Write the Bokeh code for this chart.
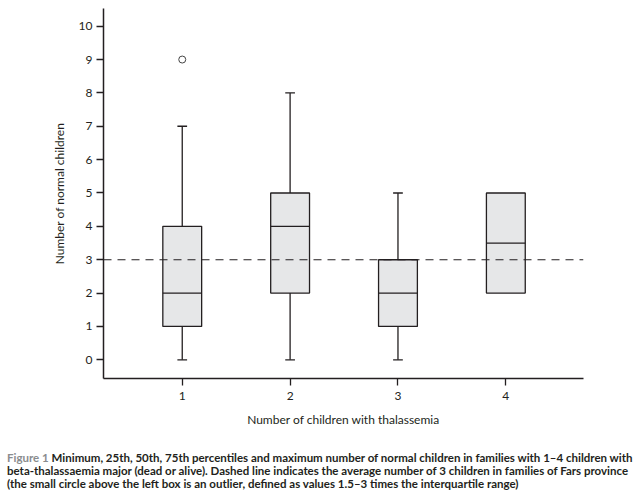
from bokeh.plotting import figure
from bokeh.models import Range1d, FixedTicker, Span, ColumnDataSource, Div
from bokeh.layouts import column
from bokeh.embed import file_html
from bokeh.resources import INLINE

# ---- data ----
groups = [1, 2, 3, 4]
mins = [0, 0, 0, 2]
q1s = [1, 2, 1, 2]
medians = [2, 4, 2, 3.5]
q3s = [4, 5, 3, 5]
maxs = [7, 8, 5, 5]
outlier_x = [1]
outlier_y = [9]
average_value = 3
x_ticks = [1, 2, 3, 4]
y_ticks = [0, 1, 2, 3, 4, 5, 6, 7, 8, 9, 10]

x_label = "Number of children with thalassemia"
y_label = "Number of normal children"
caption_prefix = "Figure 1"
caption_line1 = "Minimum, 25th, 50th, 75th percentiles and maximum number of normal children in families with 1\u20134 children with"
caption_line2 = "beta-thalassaemia major (dead or alive). Dashed line indicates the average number of 3 children in families of Fars province"
caption_line3 = "(the small circle above the left box is an outlier, defined as values 1.5\u20133 times the interquartile range)"

# ---- style ----
BOX_W = 0.36
CAP_W = 0.09
FONT = "Lato"
INK = "#231f20"

p = figure(width=643, height=440, output_backend="svg", toolbar_location=None,
           x_range=Range1d(0.27, 4.72), y_range=Range1d(-0.56, 10.53),
           min_border_left=103, min_border_right=60, min_border_top=8,
           min_border_bottom=62)
p.title.visible = False
p.outline_line_color = None
p.grid.visible = False
p.background_fill_color = "white"
p.border_fill_color = "white"

for ax in (p.xaxis[0], p.yaxis[0]):
    ax.axis_line_color = INK
    ax.axis_line_width = 1.5
    ax.major_tick_line_color = INK
    ax.major_tick_line_width = 1.3
    ax.major_tick_in = 0
    ax.major_tick_out = 7
    ax.minor_tick_line_color = None
    ax.major_label_text_font = FONT
    ax.major_label_text_font_size = "12px"
    ax.major_label_text_color = INK
    ax.axis_label_text_font = FONT
    ax.axis_label_text_font_size = "12px"
    ax.axis_label_text_font_style = "normal"
    ax.axis_label_text_color = INK

p.xaxis.ticker = FixedTicker(ticks=x_ticks)
p.yaxis.ticker = FixedTicker(ticks=y_ticks)
p.xaxis.major_label_standoff = 6
p.yaxis.major_label_standoff = 4
p.xaxis.axis_label = x_label
p.yaxis.axis_label = y_label
p.xaxis.axis_label_standoff = 9
p.yaxis.axis_label_standoff = 9

# dashed average line
p.add_layout(Span(location=average_value, dimension="width", line_color=INK,
                  line_width=1.2, line_dash="8 6"))

# whiskers (only where they extend past the box)
wu = [(g, q3, mx) for g, q3, mx in zip(groups, q3s, maxs) if mx > q3]
wl = [(g, q1, mn) for g, q1, mn in zip(groups, q1s, mins) if mn < q1]
up = ColumnDataSource(dict(x=[w[0] for w in wu], y0=[w[1] for w in wu], y1=[w[2] for w in wu],
                           c0=[w[0] - CAP_W / 2 for w in wu], c1=[w[0] + CAP_W / 2 for w in wu]))
lo = ColumnDataSource(dict(x=[w[0] for w in wl], y0=[w[1] for w in wl], y1=[w[2] for w in wl],
                           c0=[w[0] - CAP_W / 2 for w in wl], c1=[w[0] + CAP_W / 2 for w in wl]))
for src in (up, lo):
    p.segment(x0="x", y0="y0", x1="x", y1="y1", source=src, line_color=INK, line_width=1.3)
    p.segment(x0="c0", y0="y1", x1="c1", y1="y1", source=src, line_color=INK, line_width=1.3)

# boxes
boxes = ColumnDataSource(dict(x=groups, bottom=q1s, top=q3s, med=medians,
                              m0=[g - BOX_W / 2 for g in groups],
                              m1=[g + BOX_W / 2 for g in groups]))
p.vbar(x="x", width=BOX_W, bottom="bottom", top="top", source=boxes,
       fill_color="#e6e7e8", line_color=INK, line_width=1.3)
p.segment(x0="m0", y0="med", x1="m1", y1="med", source=boxes, line_color=INK, line_width=1.2)

# outlier
p.scatter(x=outlier_x, y=outlier_y, marker="circle", size=7, fill_color="white",
          line_color="#444444", line_width=1)

# caption
caption_html = (
    '<div style="line-height:13px;font-size:11.5px;font-weight:bold;font-family:Lato;'
    'white-space:nowrap;color:' + INK + '">'
    '<span style="color:#8a8c8e">' + caption_prefix + '</span> ' + caption_line1 + '<br>'
    + caption_line2 + '<br>' + caption_line3 + '</div>'
)
cap = Div(text=caption_html, width=643, height=55,
          styles={"font-family": "Lato", "font-weight": "bold", "font-size": "11.5px",
                  "line-height": "13px", "color": INK, "white-space": "nowrap",
                  "padding-top": "6px", "padding-left": "2px"})

layout = column(p, cap, spacing=0)
open("out.html", "w").write(file_html(layout, INLINE))
